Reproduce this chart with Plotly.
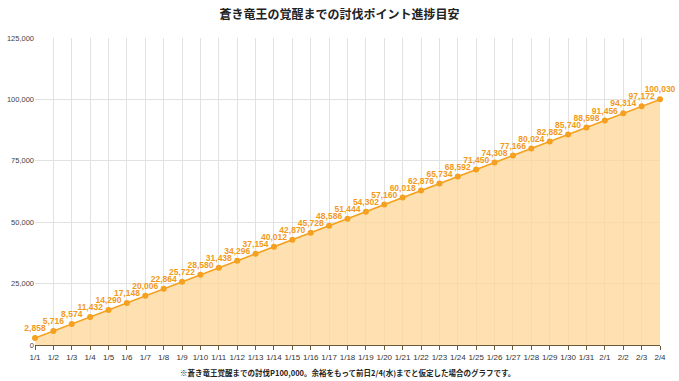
import plotly.graph_objects as go

dates = ["1/%d" % d for d in range(1, 32)] + ["2/1", "2/2", "2/3", "2/4"]
points = [2858, 5716, 8574, 11432, 14290, 17148, 20006, 22864, 25722, 28580,
          31438, 34296, 37154, 40012, 42870, 45728, 48586, 51444, 54302, 57160,
          60018, 62876, 65734, 68592, 71450, 74308, 77166, 80024, 82882, 85740,
          88598, 91456, 94314, 97172, 100030]
y_ticks = [0, 25000, 50000, 75000, 100000, 125000]
y_tick_text = ["0", "25,000", "50,000", "75,000", "100,000", "125,000"]
title_text = "蒼き竜王の覚醒までの討伐ポイント進捗目安"
note_text = "※蒼き竜王覚醒までの討伐P100,000。余裕をもって前日2/4(水)までと仮定した場合のグラフです。"

labels = ["{:,}".format(v) for v in points]

fig = go.Figure()
fig.add_trace(go.Scatter(
    x=dates, y=points, mode="lines+markers+text",
    fill="tozeroy", fillcolor="rgba(255,214,150,0.75)",
    line=dict(color="#F5A01E", width=1.5),
    marker=dict(color="#F5A01E", size=6),
    text=labels, textposition="top center",
    textfont=dict(family="Liberation Sans, Arial", size=8.5, color="#F29A1A", weight="bold"),
    cliponaxis=False, hoverinfo="skip",
))

fig.update_layout(
    width=679, height=381,
    margin=dict(l=35, r=19, t=38, b=36, autoexpand=False),
    paper_bgcolor="white", plot_bgcolor="white",
    showlegend=False,
    title=dict(text="<b>" + title_text + "</b>", x=0.5, xanchor="center", y=0.962, yanchor="middle",
               font=dict(family="Noto Sans CJK JP", size=12, color="#222")),
    xaxis=dict(
        type="category", range=[0, 34], showgrid=True, gridcolor="#e2e2e2", gridwidth=1,
        showline=True, linecolor="#6b5a3a", linewidth=1,
        ticks="outside", ticklen=4, tickcolor="#6b5a3a",
        tickfont=dict(family="Liberation Sans, Arial", size=8, color="#333"),
        tickangle=0, zeroline=False, automargin=False,
    ),
    yaxis=dict(
        range=[0, 125000], tickvals=y_ticks, ticktext=y_tick_text,
        showgrid=True, gridcolor="#e2e2e2", gridwidth=1, zeroline=False,
        showline=False, ticks="", ticklen=0, automargin=False,
        tickfont=dict(family="Liberation Sans, Arial", size=7.5, color="#444"),
    ),
    annotations=[dict(
        text="<b>" + note_text + "</b>", x=0.5, xref="paper", y=-0.09, yref="paper",
        xanchor="center", yanchor="middle", showarrow=False,
        font=dict(family="Noto Sans CJK JP", size=7.5, color="#222"),
    )],
)

fig.write_html("out.html", config={"displayModeBar": False},
               post_script="document.body.style.margin='0';document.body.style.overflow='hidden';")
